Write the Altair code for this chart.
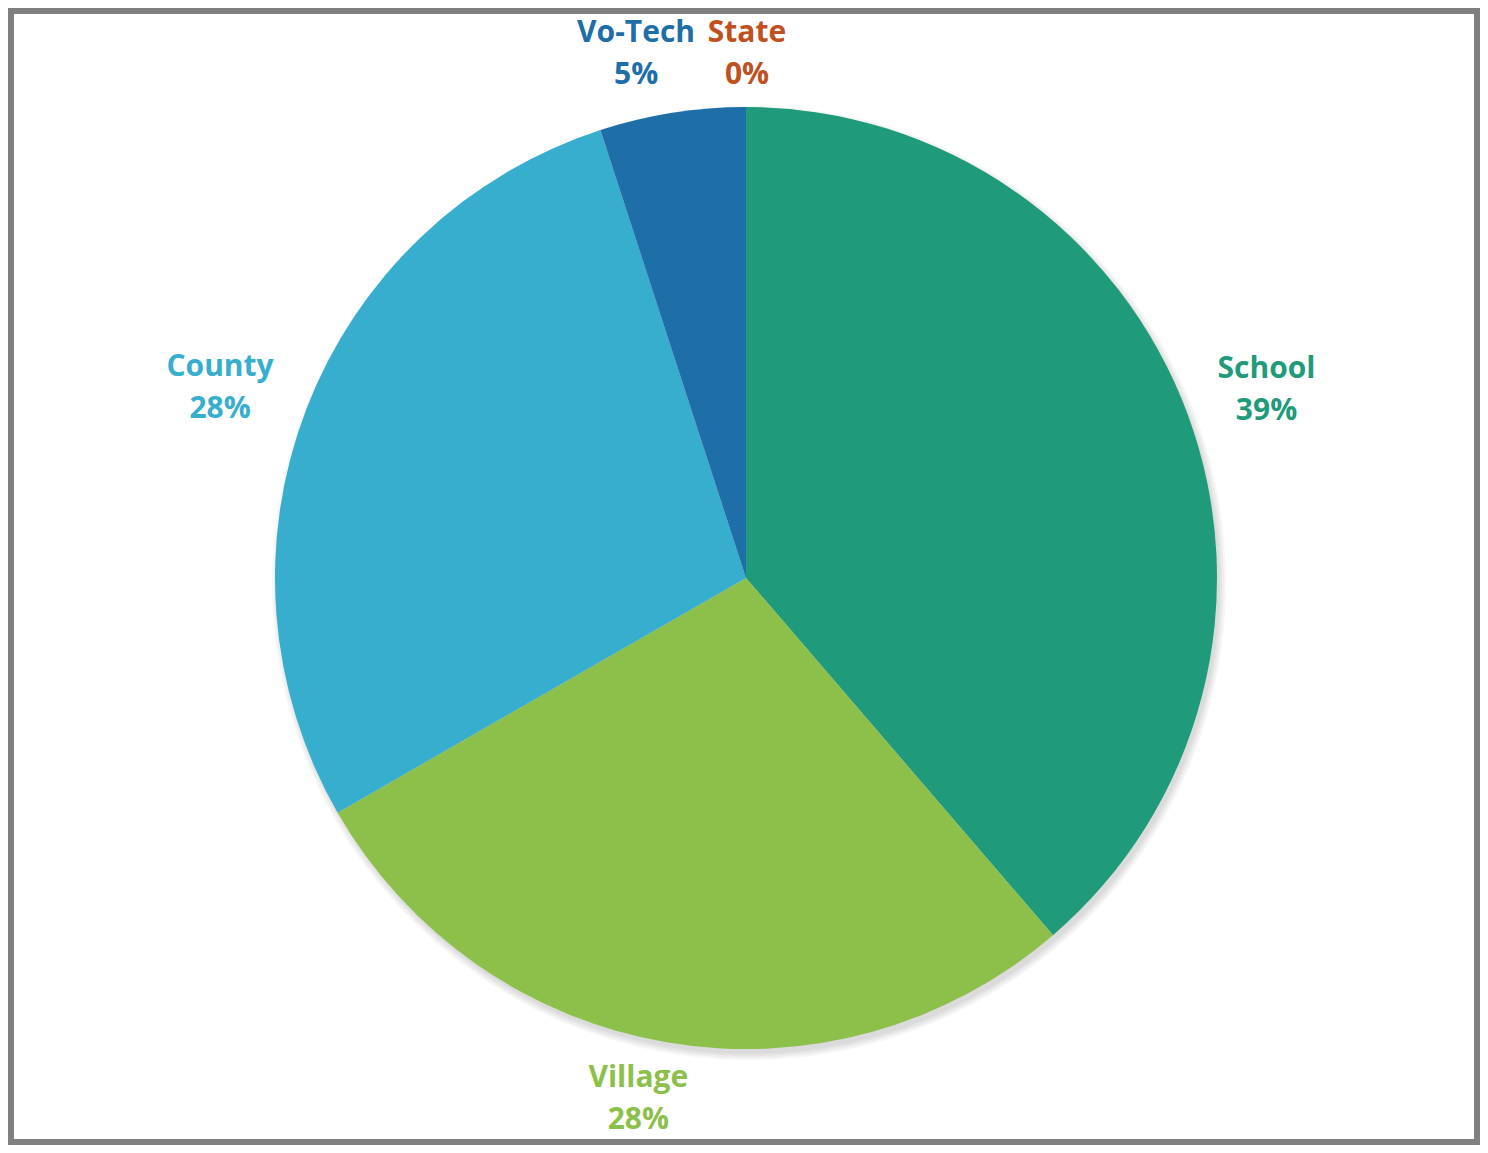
import altair as alt
import pandas as pd

categories = ["School", "Village", "County", "Vo-Tech", "State"]
values = [38.7, 28.0, 28.3, 5.0, 0.0]
pct_labels = ["39%", "28%", "28%", "5%", "0%"]
colors = ["#1F9B7B", "#8CC04A", "#37AECE", "#1E6EA8", "#C05020"]

df = pd.DataFrame({
    "category": categories,
    "value": values,
    "pct": pct_labels,
    "order": list(range(len(categories))),
})
df["label"] = df["category"] + "\n" + df["pct"]

CX, CY, R = 738, 570, 471
LINE_H = 42

color_enc = alt.Color("category:N", scale=alt.Scale(domain=categories, range=colors), legend=None)

base = alt.Chart(df).encode(
    theta=alt.Theta("value:Q", stack=True),
    order=alt.Order("order:Q"),
)

shadows = [
    base.mark_arc(radius=R + 6 - i * 2, color="#000000", opacity=0.035).encode(
        x=alt.value(CX + 3), y=alt.value(CY + 5)
    )
    for i in range(4)
]

pie = base.mark_arc(radius=R).encode(color=color_enc, x=alt.value(CX), y=alt.value(CY))


def label_layer(cat, radius, dx, dy):
    return base.transform_calculate(
        lab=f"datum.category == '{cat}' ? datum.label : ''"
    ).mark_text(
        radius=radius, dx=dx, dy=dy - LINE_H / 2,
        font="Open Sans", fontSize=30, fontWeight="bold", lineBreak="\n", lineHeight=LINE_H,
        align="center", baseline="middle",
    ).encode(text="lab:N", color=color_enc, x=alt.value(CX), y=alt.value(CY))


labels = [
    label_layer("School", 553, 2, 4),
    label_layer("Village", 537, -17, -8),
    label_layer("County", 555, -8, 9),
    label_layer("Vo-Tech", 530, -27, -1),
    label_layer("State", 524, 1, 0),
]

chart = alt.layer(*shadows, pie, *labels).properties(
    width=1472, height=1137, padding=0, autosize=alt.AutoSizeParams(type="none"),
    background="white",
).configure_view(stroke="#808080", strokeWidth=12)

chart.save("out.html", embed_options={"renderer": "svg", "actions": False})
